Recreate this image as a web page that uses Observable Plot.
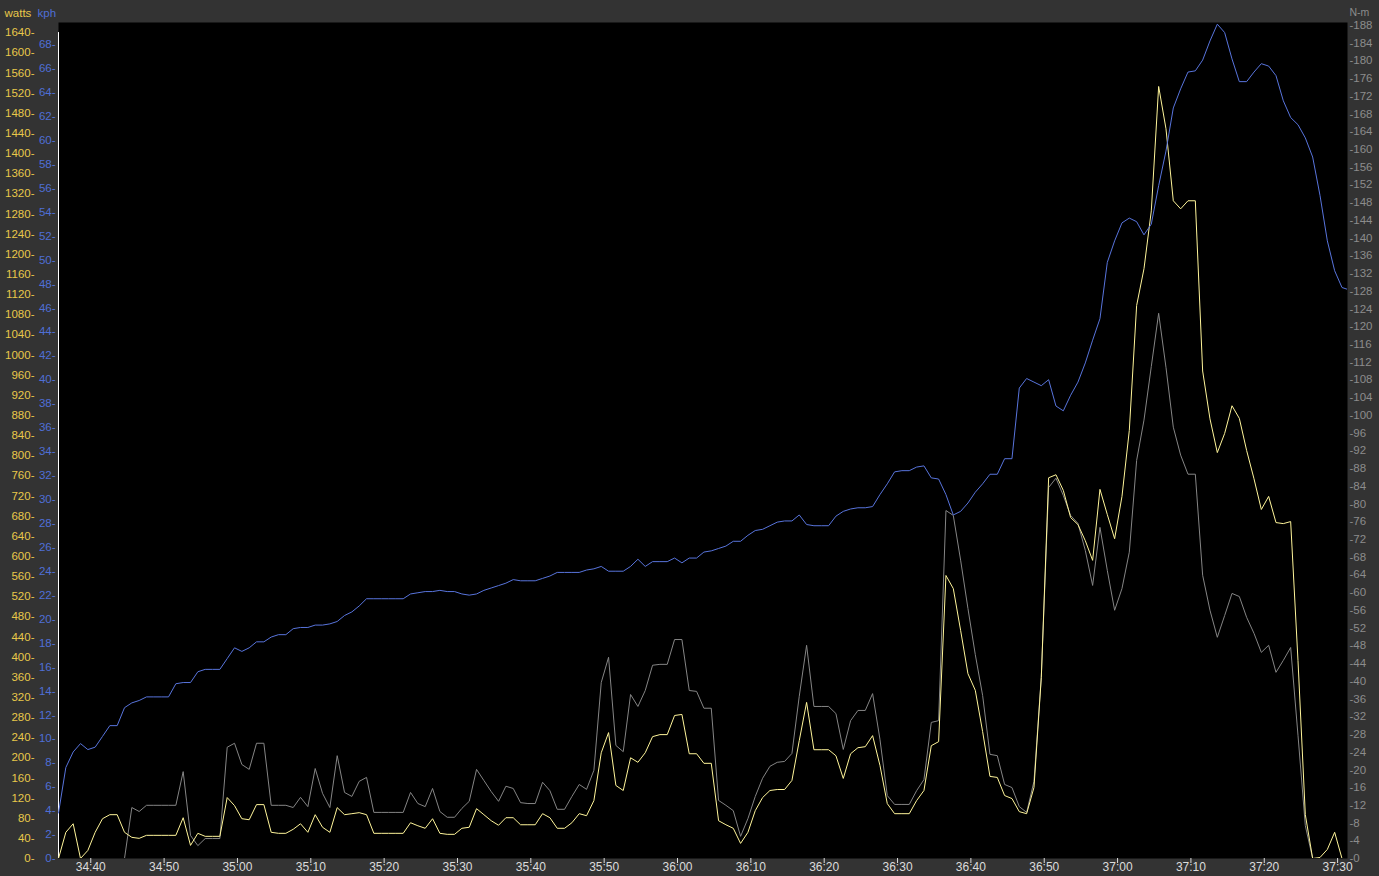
<!DOCTYPE html>
<html>
<head>
<meta charset="utf-8">
<script src="https://cdn.jsdelivr.net/npm/d3@7"></script>
<script src="https://cdn.jsdelivr.net/npm/@observablehq/plot@0.6"></script>
<style>
  html, body { margin: 0; padding: 0; background: #333333; }
  #chart svg { display: block; }
</style>
</head>
<body>
<div id="chart"></div>
<script>
// ---- data (1 Hz samples, starting at 34:35.6) ----
const startSec = 35.6;            // seconds after 34:00 of the first sample
const baseMinute = 34;

const kph = [3.8,7.6,8.9,9.6,9.1,9.3,10.2,11.1,11.1,12.6,
13.0,13.2,13.5,13.5,13.5,13.5,14.6,14.7,14.7,15.6,
15.8,15.8,15.8,16.7,17.6,17.3,17.6,18.1,18.1,18.5,
18.7,18.7,19.2,19.3,19.3,19.5,19.5,19.6,19.8,20.3,
20.6,21.1,21.7,21.7,21.7,21.7,21.7,21.7,22.1,22.2,
22.3,22.3,22.4,22.3,22.3,22.1,22.0,22.1,22.4,22.6,
22.8,23.0,23.3,23.2,23.2,23.2,23.4,23.6,23.9,23.9,
23.9,23.9,24.1,24.2,24.4,24.0,24.0,24.0,24.4,25.0,
24.4,24.8,24.8,24.8,25.1,24.7,25.1,25.1,25.6,25.7,
25.9,26.1,26.5,26.5,27.0,27.4,27.5,27.8,28.1,28.2,
28.2,28.7,27.9,27.8,27.8,27.8,28.6,29.0,29.2,29.3,
29.3,29.4,30.4,31.3,32.3,32.4,32.4,32.7,32.8,31.8,
31.7,30.4,28.7,29.0,29.7,30.6,31.3,32.1,32.1,33.4,
33.4,39.3,40.1,39.8,39.5,40.0,37.8,37.4,38.7,39.8,
41.4,43.3,45.1,49.8,51.6,53.1,53.5,53.2,52.1,53.0,
56.2,59.1,62.7,64.3,65.7,65.8,66.7,68.3,69.7,69.0,
66.8,64.9,64.9,65.7,66.4,66.2,65.4,63.3,61.9,61.3,
60.2,58.6,55.4,51.6,49.1,47.7,47.5];

const watts = [0,52,69,0,16,52,79,87,87,52,
42,40,46,46,46,46,46,81,26,50,
44,44,44,121,105,79,77,107,107,52,
50,50,58,69,52,87,62,52,101,87,
89,91,87,50,50,50,50,50,71,65,
60,79,50,48,48,60,62,99,87,75,
66,81,81,67,67,67,89,81,60,60,
71,89,85,115,210,250,145,135,200,191,
210,242,246,246,284,286,208,208,189,189,
75,67,60,30,52,95,121,135,137,137,
155,234,310,216,216,216,204,159,208,220,
222,244,185,109,89,89,89,115,135,224,
232,562,536,453,367,334,252,163,161,125,
119,93,89,141,359,756,762,731,677,663,
631,592,733,683,635,719,850,1098,1171,1286,
1533,1449,1306,1290,1306,1306,968,873,806,844,
899,874,810,754,693,719,667,665,669,393,
87,0,2,18,52,0,0];

const torque = [0,0,0,0,0,0,0,0,0,0,
11.5,10.6,12.0,12.0,12.0,12.0,12.0,19.6,5.2,2.9,
4.5,4.5,4.5,25.1,26.0,21.2,20.1,26.0,26.0,12.0,
12.0,12.0,11.5,13.8,11.7,20.3,14.7,11.5,23.2,14.9,
14.0,17.4,18.3,10.4,10.4,10.4,10.4,10.4,14.9,12.4,
11.7,15.8,10.6,9.3,9.3,11.3,12.9,20.1,17.6,15.1,
12.9,16.3,15.8,12.6,12.4,12.4,17.2,15.3,11.1,11.1,
14.0,16.7,15.6,19.9,39.7,45.4,25.5,24.1,37.0,34.3,
37.9,43.6,43.8,43.8,49.4,49.4,37.9,37.7,33.9,33.9,
13.1,12.0,10.8,5.0,9.0,14.0,18.1,20.8,21.7,21.9,
23.7,36.6,48.1,34.3,34.3,34.3,32.7,24.6,31.1,33.4,
33.4,37.2,26.9,14.2,12.2,12.2,12.2,15.3,17.8,30.7,
31.1,78.5,77.4,67.3,56.4,46.0,36.8,23.5,23.2,16.7,
16.0,11.7,10.4,17.4,40.9,83.7,85.8,81.9,77.4,75.6,
69.5,61.6,74.7,65.0,56.0,60.9,69.1,89.8,98.9,111.0,
123.0,110.8,97.3,91.0,86.7,86.7,63.9,56.0,49.9,54.8,
59.8,59.1,54.4,50.8,46.5,48.1,42.0,44.7,47.6,27.8,
7.4,0,0,0,0,0,0];

// axis ticks
const timeTicks = [40,50,60,70,80,90,100,110,120,130,140,150,160,170,180,190,200,210];
const wattTicks = d3.range(0, 1641, 40);
const kphTicks = d3.range(0, 69, 2);
const nmTicks = d3.range(0, 189, 4);

// axis extents (top of plot on each axis)
const wattsTop = 1660;
const kphTop = 69.84;
const nmTop = 188.6;
const xDomain = [35.6, 211.35];

// ---- styling ----
const C = {
  bg: "#333333",
  yellowText: "#e8c84a",
  yellowLine: "#fff59a",
  blueText: "#4f6fd6",
  blueLine: "#5874dc",
  grayText: "#8c8c8c",
  grayLine: "#858585",
  xText: "#dcdcdc"
};

const kK = wattsTop / kphTop;
const nK = wattsTop / nmTop;
const fmtTime = s => {
  const tot = baseMinute * 60 + s;
  const m = Math.floor(tot / 60), ss = Math.round(tot - m * 60);
  return m + ":" + String(ss).padStart(2, "0");
};

const rows = kph.map((v, i) => ({
  t: startSec + i,
  kph: v,
  watts: watts[i],
  nm: torque[i]
}));

const chart = Plot.plot({
  width: 1379,
  height: 876,
  marginLeft: 58,
  marginRight: 32,
  marginTop: 22,
  marginBottom: 18,
  style: {background: C.bg, fontFamily: "'Liberation Sans', Arial, sans-serif", fontSize: "11.5px"},
  x: {domain: xDomain},
  y: {domain: [0, wattsTop]},
  marks: [
    Plot.frame({fill: "black", stroke: null}),
    Plot.axisX(timeTicks, {anchor: "bottom", tickSize: 5, tickPadding: -1, tickFormat: fmtTime, color: C.xText, fontSize: 12, label: null}),
    Plot.axisY(wattTicks, {anchor: "left", tickSize: 0, tickPadding: 24, tickFormat: d => d + "-", color: C.yellowText, label: null}),
    Plot.axisY(kphTicks.map(v => v * kK), {anchor: "left", tickSize: 0, tickPadding: 3, tickFormat: d => Math.round(d / kK) + "-", color: C.blueText, label: null}),
    Plot.axisY(nmTicks.map(v => v * nK), {anchor: "right", tickSize: 0, tickPadding: 2, tickFormat: d => "-" + Math.round(d / nK), color: C.grayText, label: null}),
    Plot.text(["watts"], {frameAnchor: "top-left", lineAnchor: "middle", dx: -54, dy: -9, textAnchor: "start", fill: C.yellowText, fontSize: 11.5}),
    Plot.text(["kph"], {frameAnchor: "top-left", lineAnchor: "middle", dx: -21, dy: -9, textAnchor: "start", fill: C.blueText, fontSize: 11.5}),
    Plot.text(["N-m"], {frameAnchor: "top-right", lineAnchor: "middle", dx: 2, dy: -10, textAnchor: "start", fill: C.grayText, fontSize: 10.5}),
    Plot.ruleX([startSec], {y1: 0, y2: 1640, stroke: "white", strokeWidth: 1}),
    Plot.line(rows, {x: "t", y: d => d.nm * nK, stroke: C.grayLine, strokeWidth: 1, clip: true}),
    Plot.line(rows, {x: "t", y: "watts", stroke: C.yellowLine, strokeWidth: 1, clip: true}),
    Plot.line(rows, {x: "t", y: d => d.kph * kK, stroke: C.blueLine, strokeWidth: 1, clip: true})
  ]
});
document.getElementById("chart").append(chart);
</script>
</body>
</html>
